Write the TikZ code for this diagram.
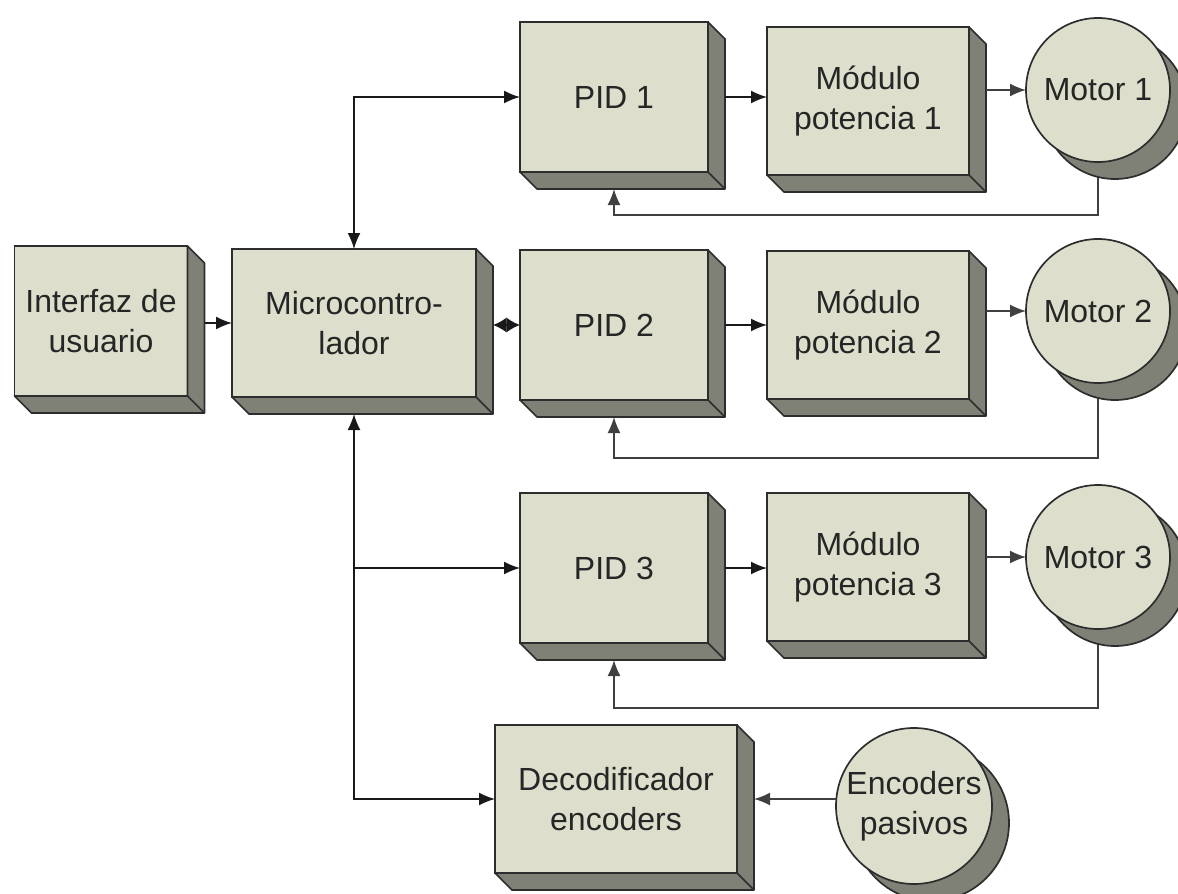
\documentclass[tikz,border=0pt]{standalone}
\usepackage{fontspec}
\setmainfont{Liberation Sans}
\usepackage{tikz}
\usetikzlibrary{calc, arrows.meta, backgrounds}

\definecolor{colCara}{RGB}{221,223,204}
\definecolor{colLado}{RGB}{127,129,118}
\definecolor{colBorde}{RGB}{45,45,45}

\begin{document}
\begin{tikzpicture}[>={Latex[length=16pt, width=13pt]}, x=1pt, y=-1pt,
    caja/.style={draw=colBorde, fill=colCara, line width=1.7pt, outer sep=0pt,
        align=center, text=black!85, font=\fontsize{32}{40}\selectfont,
        minimum width=188pt, minimum height=148pt, inner sep=0pt},
    lado/.style={draw=colBorde, fill=colLado, line width=1.7pt, line join=round},
    motor/.style={circle, draw=colBorde, fill=colCara, line width=1.7pt, outer sep=0pt,
        minimum size=144pt, inner sep=0pt, align=center, text=black!85,
        font=\fontsize{32}{40}\selectfont},
    sombra/.style={circle, draw=colBorde, fill=colLado, line width=1.7pt,
        minimum size=144pt, inner sep=0pt},
    flecha/.style={line width=1.6pt, black!90},
    retro/.style={line width=1.6pt, black!75}]
    \useasboundingbox (0,0) rectangle (1178,894);

    % 1. Bloques
    \node[caja, minimum width=173pt, minimum height=150pt] (iu) at (101,321) {Interfaz de\\usuario};
    \node[caja, minimum width=244pt] (mc) at (354,323) {Microcontro-\\lador};
    \foreach \i/\y in {1/97, 2/325, 3/568} {
        \node[caja, minimum height=150pt] (pid\i) at (614,\y) {PID \i};
    }
    \foreach \i/\y in {1/101, 2/325, 3/567} {
        \node[caja, minimum width=202pt] (mod\i) at (868,\y) {Módulo\\potencia \i};
    }
    \node[caja, minimum width=242pt] (dec) at (616,799) {Decodificador\\encoders};

    % 2. Relieve de los bloques
    \foreach \n in {iu, mc, pid1, pid2, pid3, mod1, mod2, mod3, dec} {
        \filldraw[lado] (\n.north east) -- ++(17,17) -- ($(\n.south east)+(17,17)$)
            -- ($(\n.south west)+(17,17)$) -- (\n.south west) -- (\n.south east) -- cycle;
        \draw[lado] (\n.south east) -- ++(17,17);
    }

    % 3. Motores y encoders
    \foreach \i/\y in {1/90, 2/311, 3/557} {
        \node[sombra] (s\i) at (1115,\y+17) {};
        \node[motor] (m\i) at (1098,\y) {Motor \i};
    }
    \node[sombra, minimum size=156pt] (se) at (931,823) {};
    \node[motor, minimum size=156pt] (enc) at (914,806) {Encoders\\pasivos};

    % 4. Conexiones
    \draw[flecha, ->] ($(iu.east)+(17,2)$) -- (mc.west);
    \draw[flecha, <->] (mc.north) |- (pid1.west);
    \draw[flecha, {Latex[length=13.5pt, width=15pt]}-{Latex[length=13.5pt, width=15pt]}]
        ($(mc.east)+(17,2)$) -- (pid2.west);
    \draw[flecha, <->] ($(mc.south)+(0,17)$) |- (dec.west);
    \draw[flecha, ->] (mc.south |- pid3.west) -- (pid3.west);
    \foreach \i in {1,2,3} {
        \draw[flecha, ->] ($(pid\i.east)+(17,0)$) -- (pid\i.east -| mod\i.west);
        \draw[retro, ->] ($(m\i.west -| mod\i.east)+(17,0)$) -- (m\i.west);
    }
    \draw[retro, ->] (enc.west |- dec.east) -- ($(dec.east)+(17,0)$);

    % 5. Realimentacion
    \begin{scope}[on background layer]
        \foreach \i/\y in {1/215, 2/458, 3/708} {
            \draw[retro, ->] (m\i.center) -- (m\i |- 0,\y) -| ($(pid\i.south)+(0,17)$);
        }
    \end{scope}
\end{tikzpicture}
\end{document}
